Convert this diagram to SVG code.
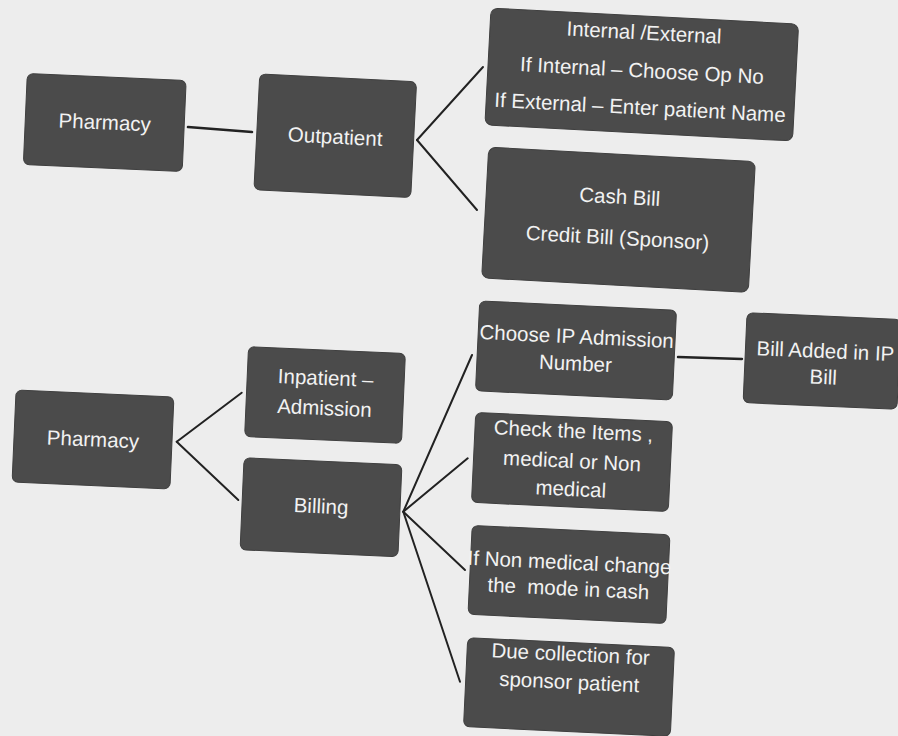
<svg xmlns="http://www.w3.org/2000/svg" width="898" height="736" viewBox="0 0 898 736">
  <style>
    .box { fill: #4b4b4b; stroke: #3f3f3f; stroke-width: 1; }
    .t { font-family: "Liberation Sans", Arial, sans-serif; font-size: 20.5px; fill: #f2f2f2; text-anchor: middle; }
    .c { stroke: #222; stroke-width: 2; fill: none; stroke-linecap: round; }
  </style>
  <rect width="898" height="736" fill="#ededed"/>

  <g id="connectors">
    <line class="c" x1="188" y1="127" x2="252" y2="132" style="stroke-width:2.6"/>
    <line class="c" x1="417" y1="140" x2="483" y2="67"/>
    <line class="c" x1="417" y1="140" x2="477" y2="210"/>
    <line class="c" x1="176.7" y1="441.7" x2="241.7" y2="392.7"/>
    <line class="c" x1="176.7" y1="441.7" x2="238.3" y2="500"/>
    <line class="c" x1="403.3" y1="511.7" x2="472" y2="355"/>
    <line class="c" x1="403.3" y1="511.7" x2="467.7" y2="458.3"/>
    <line class="c" x1="403.3" y1="511.7" x2="465" y2="570"/>
    <line class="c" x1="403.3" y1="511.7" x2="460" y2="681.7"/>
    <line class="c" x1="678" y1="357" x2="742" y2="359" style="stroke-width:2.4"/>
  </g>

  <g id="pharmacy-op" transform="translate(104.75 122.5) rotate(2.5)">
    <rect class="box" x="-79.5" y="-45.5" width="159" height="91" rx="6"/>
    <text class="t" x="0" y="7">Pharmacy</text>
  </g>

  <g id="outpatient" transform="translate(335.25 135.75) rotate(2.9)">
    <rect class="box" x="-78.5" y="-58" width="157" height="116" rx="6"/>
    <text class="t" x="0" y="8">Outpatient</text>
  </g>

  <g id="internal-external" transform="translate(641.75 74.5) rotate(3)">
    <rect class="box" x="-154" y="-58.5" width="308" height="117" rx="7"/>
    <text class="t" x="0" y="-35">Internal /External</text>
    <text class="t" x="0" y="3">If Internal – Choose Op No</text>
    <text class="t" x="0" y="40">If External – Enter patient Name</text>
  </g>

  <g id="cash-credit" transform="translate(618.5 219.75) rotate(3.1)">
    <rect class="box" x="-133.5" y="-65.5" width="267" height="131" rx="7"/>
    <text class="t" x="0" y="-16">Cash Bill</text>
    <text class="t" x="0" y="25">Credit Bill (Sponsor)</text>
  </g>

  <g id="pharmacy-ip" transform="translate(93 439.5) rotate(2.5)">
    <rect class="box" x="-79" y="-46" width="158" height="92" rx="6"/>
    <text class="t" x="0" y="7">Pharmacy</text>
  </g>

  <g id="inpatient-admission" transform="translate(325 395) rotate(2.5)">
    <rect class="box" x="-78.5" y="-45" width="157" height="90" rx="6"/>
    <text class="t" x="0" y="-10">Inpatient –</text>
    <text class="t" x="0" y="20">Admission</text>
  </g>

  <g id="billing" transform="translate(321 507.25) rotate(2.5)">
    <rect class="box" x="-79" y="-46" width="158" height="92" rx="6"/>
    <text class="t" x="0" y="6">Billing</text>
  </g>

  <g id="choose-ip" transform="translate(576 350.5) rotate(2.7)">
    <rect class="box" x="-98.5" y="-45" width="197" height="90" rx="6"/>
    <text class="t" x="0" y="-7">Choose IP Admission</text>
    <text class="t" x="0" y="20">Number</text>
  </g>

  <g id="check-items" transform="translate(572 462) rotate(2.7)">
    <rect class="box" x="-98.5" y="-45" width="197" height="90" rx="6"/>
    <text class="t" x="0" y="-24">Check the Items ,</text>
    <text class="t" x="0" y="6">medical or Non</text>
    <text class="t" x="0" y="34">medical</text>
  </g>

  <g id="non-medical" transform="translate(569 574.5) rotate(2.7)">
    <rect class="box" x="-99" y="-44.5" width="198" height="89" rx="6"/>
    <text class="t" x="0" y="-5">If Non medical change</text>
    <text class="t" x="0" y="21" xml:space="preserve">the  mode in cash</text>
  </g>

  <g id="due-collection" transform="translate(569 687) rotate(2.7)">
    <rect class="box" x="-103.5" y="-44.5" width="207" height="89" rx="6"/>
    <text class="t" x="0" y="-26">Due collection for</text>
    <text class="t" x="0" y="2">sponsor patient</text>
  </g>

  <g id="bill-added" transform="translate(822 361) rotate(2.5)">
    <rect class="box" x="-77" y="-45" width="154" height="90" rx="6"/>
    <text class="t" x="3" y="-3">Bill Added in IP</text>
    <text class="t" x="2" y="23">Bill</text>
  </g>
</svg>
